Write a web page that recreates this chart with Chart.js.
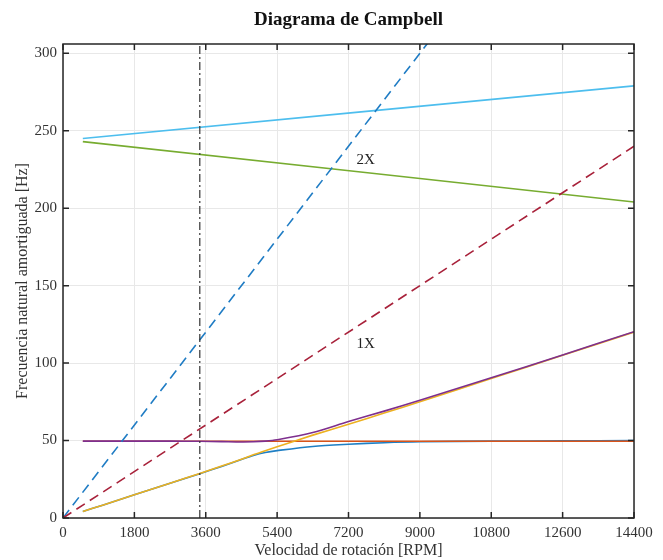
<!DOCTYPE html>
<html>
<head>
<meta charset="utf-8">
<script src="https://cdn.jsdelivr.net/npm/chart.js@4.4.1/dist/chart.umd.min.js"></script>
<style>
  html, body { margin: 0; padding: 0; background: #fff; }
  #wrap { width: 663px; height: 560px; }
</style>
</head>
<body>
<div id="wrap"><canvas id="campbell"></canvas></div>
<script>
    // speed grid (RPM) for the coupled modes
    const rpm = [500, 1000, 1800, 2700, 3450, 4000, 4500, 4800, 5100, 5400, 6300, 7200, 8100, 9000, 10800, 12600, 14400];

    // frequencies [Hz]
    const modeBlue   = [4.2, 8.3, 15, 22.5, 28.6, 33.3, 37.8, 40.4, 42.3, 43.5, 46.2, 47.6, 48.6, 49.2, 49.6, 49.8, 50];
    const modeRed    = [49.5, 49.5, 49.5, 49.5, 49.5, 49.5, 49.5, 49.5, 49.5, 49.5, 49.5, 49.5, 49.5, 49.5, 49.5, 49.5, 49.5];
    const modeYellow = [4.2, 8.3, 15, 22.5, 28.8, 33.5, 38, 40.8, 43.4, 46, 53.5, 60.5, 67.8, 75, 90, 105, 120];
    const modePurple = [49.6, 49.6, 49.6, 49.6, 49.5, 49.3, 49.1, 49.2, 49.6, 50.5, 55.2, 62.3, 69, 76, 90.5, 105.3, 120.3];

    // straight modes, end points only
    const rpmEnds = [500, 14400];
    const modeGreen     = [243, 204];
    const modeLightBlue = [245, 279];

    // excitation lines 1X and 2X
    const rpmExc = [0, 14400];
    const line1X = [0, 240];
    const line2X = [0, 480];

    // operating speed
    const opSpeed = 3450;

    // axes
    const xTicks = [0, 1800, 3600, 5400, 7200, 9000, 10800, 12600, 14400];
    const yTicks = [0, 50, 100, 150, 200, 250, 300];
    const xMax = 14400;
    const yMax = 306;

    // labels on the plot
    const noteText = ['2X', '1X'];
    const noteRpm  = [7400, 7400];
    const noteHz   = [231, 112];

    const SERIF = '"Liberation Serif", "DejaVu Serif", serif';

    const pts = (xs, ys) => xs.map((x, i) => ({ x: x, y: ys[i] }));

    // lower "order" is painted on top, so later MATLAB lines get lower numbers
    function solid(label, xs, ys, color, order) {
        return {
            label: label, data: pts(xs, ys), borderColor: color, backgroundColor: color,
            borderWidth: 1.6, pointRadius: 0, tension: 0.3, fill: false, order: order
        };
    }

    // üî≤ frame + inward ticks + notes
    const framePlugin = {
        id: 'frame',
        afterDatasetsDraw(chart) {
            const { ctx, chartArea: a, scales } = chart;
            const tick = 6;
            ctx.save();
            ctx.strokeStyle = '#262626';
            ctx.lineWidth = 1.5;
            ctx.strokeRect(a.left, a.top, a.right - a.left, a.bottom - a.top);
            ctx.beginPath();
            scales.x.ticks.forEach(t => {
                const px = scales.x.getPixelForValue(t.value);
                ctx.moveTo(px, a.bottom); ctx.lineTo(px, a.bottom - tick);
                ctx.moveTo(px, a.top); ctx.lineTo(px, a.top + tick);
            });
            scales.y.ticks.forEach(t => {
                const py = scales.y.getPixelForValue(t.value);
                ctx.moveTo(a.left, py); ctx.lineTo(a.left + tick, py);
                ctx.moveTo(a.right, py); ctx.lineTo(a.right - tick, py);
            });
            ctx.stroke();

            ctx.fillStyle = '#222';
            ctx.font = '15px ' + SERIF;
            ctx.textAlign = 'left';
            ctx.textBaseline = 'middle';
            noteText.forEach((txt, i) => {
                ctx.fillText(txt, scales.x.getPixelForValue(noteRpm[i]), scales.y.getPixelForValue(noteHz[i]));
            });
            ctx.restore();
        }
    };

    document.addEventListener('DOMContentLoaded', function () {
        const ctx = document.getElementById('campbell').getContext('2d');

        new Chart(ctx, {
            type: 'line',
            data: {
                datasets: [
                    solid('Modo 1', rpm, modeBlue, '#1f7fc4', 9),
                    solid('Modo 2', rpm, modeRed, '#D95319', 8),
                    solid('Modo 3', rpm, modeYellow, '#EDB120', 7),
                    solid('Modo 4', rpm, modePurple, '#7E2F8E', 6),
                    solid('Modo 5', rpmEnds, modeGreen, '#77AC30', 5),
                    solid('Modo 6', rpmEnds, modeLightBlue, '#4DBEEE', 4),
                    {
                        label: '2X', data: pts(rpmExc, line2X), borderColor: '#1f7cc4',
                        borderWidth: 1.6, borderDash: [10, 6], pointRadius: 0, fill: false, order: 3
                    },
                    {
                        label: '1X', data: pts(rpmExc, line1X), borderColor: '#A8213A',
                        borderWidth: 1.6, borderDash: [10, 6], pointRadius: 0, fill: false, order: 2
                    },
                    {
                        label: 'Operación', data: pts([opSpeed, opSpeed], [0, yMax]), borderColor: '#333',
                        borderWidth: 1.2, borderDash: [8, 3, 2, 3], pointRadius: 0, fill: false, order: 1
                    }
                ]
            },
            options: {
                responsive: true,
                maintainAspectRatio: false,
                animation: false,
                layout: { padding: { left: 0, right: 29, top: 0, bottom: 0 } },
                plugins: {
                    legend: { display: false },
                    tooltip: { enabled: false },
                    title: {
                        display: true,
                        text: 'Diagrama de Campbell',
                        fullSize: false,
                        color: '#111',
                        font: { family: SERIF, size: 19, weight: 'bold' },
                        padding: { top: 9, bottom: 12.2 }
                    }
                },
                scales: {
                    x: {
                        type: 'linear',
                        min: 0, max: xMax,
                        grid: { color: '#e8e8e8', lineWidth: 1, drawTicks: false },
                        border: { display: false },
                        afterBuildTicks(scale) {
                            scale.ticks = xTicks.map(v => ({ value: v }));
                        },
                        ticks: {
                            padding: 6, color: '#333', maxRotation: 0, autoSkip: false,
                            font: { family: SERIF, size: 15 },
                            callback: v => String(v)
                        },
                        title: {
                            display: true, text: 'Velocidad de rotación [RPM]', color: '#333',
                            font: { family: SERIF, size: 16 }, padding: { top: 0, bottom: 0 }
                        },
                        afterFit(scale) {
                            scale.height = 42;
                            scale.paddingLeft = 0;
                            scale.paddingRight = 0;
                        }
                    },
                    y: {
                        min: 0, max: yMax,
                        grid: { color: '#e8e8e8', lineWidth: 1, drawTicks: false },
                        border: { display: false },
                        afterBuildTicks(scale) {
                            scale.ticks = yTicks.map(v => ({ value: v }));
                        },
                        ticks: {
                            padding: 6, color: '#333', autoSkip: false,
                            font: { family: SERIF, size: 15 },
                            callback: v => String(v)
                        },
                        title: {
                            display: true, text: 'Frecuencia natural amortiguada [Hz]', color: '#333',
                            font: { family: SERIF, size: 16 }, padding: { top: 13, bottom: 0 }
                        },
                        afterFit(scale) {
                            scale.width = 63;
                            scale.paddingTop = 0;
                            scale.paddingBottom = 0;
                        }
                    }
                }
            },
            plugins: [framePlugin]
        });
    });
</script>
</body>
</html>
